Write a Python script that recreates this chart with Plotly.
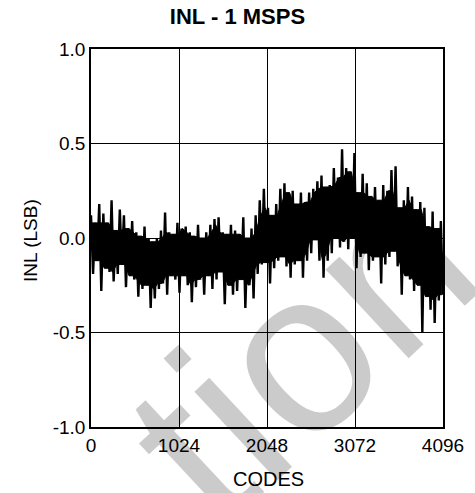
import numpy as np
import plotly.graph_objects as go

# INL values (LSB), alternating local peaks / valleys
inl = [
    0.12, -0.19, 0.08, -0.12, 0.18, -0.28, 0.13, -0.16, 0.08, -0.18,
    0.20, -0.23, 0.04, -0.19, 0.15, -0.14, 0.12, -0.26, 0.05, -0.20,
    0.09, -0.22, 0.03, -0.31, 0.01, -0.27, 0.06, -0.25, 0.00, -0.37,
    -0.02, -0.32, 0.00, -0.27, 0.04, -0.24, 0.135, -0.30, 0.03, -0.20,
    0.02, -0.22, 0.08, -0.29, 0.05, -0.20, 0.06, -0.25, 0.03, -0.34,
    0.01, -0.26, 0.07, -0.22, 0.00, -0.30, 0.03, -0.20, 0.07, -0.27,
    0.10, -0.22, 0.11, -0.18, 0.03, -0.35, 0.02, -0.25, 0.07, -0.30,
    0.04, -0.28, 0.02, -0.22, 0.11, -0.37, 0.00, -0.25, 0.05, -0.32,
    0.12, -0.19, 0.20, -0.14, 0.26, -0.13, 0.16, -0.24, 0.12, -0.16,
    0.18, -0.12, 0.26, -0.10, 0.29, -0.15, 0.24, -0.21, 0.25, -0.14,
    0.18, -0.12, 0.24, -0.21, 0.19, -0.12, 0.24, -0.08, 0.26, -0.01,
    0.30, -0.12, 0.33, -0.21, 0.27, -0.12, 0.28, -0.08, 0.37, 0.00,
    0.32, -0.05, 0.47, -0.02, 0.37, -0.06, 0.35, 0.00, 0.45, -0.16,
    0.24, -0.10, 0.34, -0.08, 0.29, -0.17, 0.22, -0.12, 0.27, -0.10,
    0.20, -0.24, 0.28, -0.14, 0.25, -0.10, 0.36, -0.07, 0.38, -0.15,
    0.16, -0.30, 0.20, -0.20, 0.27, -0.22, 0.22, -0.28, 0.15, -0.25,
    0.19, -0.50, 0.16, -0.31, 0.06, -0.38, 0.14, -0.45, 0.05, -0.33,
    0.09, -0.30,
]
codes = np.linspace(0, 4095, len(inl))

x_ticks = [0, 1024, 2048, 3072, 4096]
y_ticks = [-1.0, -0.5, 0.0, 0.5, 1.0]

title_text = "INL - 1 MSPS"
x_title = "CODES"
y_title = "INL (LSB)"
watermark = "tion"

FONT = "Liberation Sans, Arial, sans-serif"

# solid core of the noisy trace: neighbourhood min of peaks / max of valleys
peaks = np.array(inl[0::2])
valleys = np.array(inl[1::2])
n = len(peaks)
core_hi = np.array([peaks[max(0, k - 1):k + 2].min() for k in range(n)])
core_lo = np.array([valleys[max(0, k - 1):k + 2].max() for k in range(n)])
core_x = (codes[0::2] + codes[1::2]) / 2

fig = go.Figure()
fig.add_trace(go.Scatter(
    x=core_x, y=core_hi, mode="lines",
    line=dict(color="black", width=1),
    showlegend=False, hoverinfo="skip",
))
fig.add_trace(go.Scatter(
    x=core_x, y=core_lo, mode="lines",
    line=dict(color="black", width=1),
    fill="tonexty", fillcolor="black",
    showlegend=False, hoverinfo="skip",
))
fig.add_trace(go.Scatter(
    x=codes, y=inl, mode="lines",
    line=dict(color="black", width=2.4),
    showlegend=False, hoverinfo="skip",
))

fig.update_layout(
    width=475, height=493,
    margin=dict(l=91, r=32, t=49, b=66),
    paper_bgcolor="white", plot_bgcolor="white",
    font=dict(family=FONT, color="black", size=19),
    title=dict(text="<b>" + title_text + "</b>", xref="container", x=0.5,
               xanchor="center", yref="container", y=1 - 16 / 493,
               yanchor="middle", font=dict(size=22, family=FONT, color="black")),
    showlegend=False,
)
fig.update_xaxes(
    range=[0, 4096], tickvals=x_ticks, ticktext=[str(v) for v in x_ticks],
    showgrid=True, gridcolor="black", gridwidth=1,
    showline=True, linecolor="black", linewidth=1.5, mirror=True,
    ticks="", zeroline=False, automargin=False,
    tickfont=dict(size=19),
)
fig.update_yaxes(
    range=[-1, 1], tickvals=y_ticks, ticktext=[f"{v:.1f}" for v in y_ticks],
    showgrid=True, gridcolor="black", gridwidth=1,
    showline=True, linecolor="black", linewidth=1.5, mirror=True,
    ticks="", zeroline=False, automargin=False,
    tickfont=dict(size=19),
)

# axis titles
fig.add_annotation(
    text=x_title, xref="paper", yref="paper",
    x=(268 - 91) / 352, y=(427 - 479) / 378,
    xanchor="center", yanchor="middle", showarrow=False,
    font=dict(size=20, family=FONT, color="black"),
)
fig.add_annotation(
    text=y_title, xref="paper", yref="paper",
    x=(30 - 91) / 352, y=(427 - 240) / 378,
    xanchor="center", yanchor="middle", showarrow=False, textangle=-90,
    font=dict(size=19, family=FONT, color="black"),
)

# watermark
fig.add_annotation(
    text=watermark, xref="paper", yref="paper",
    x=(300 - 91) / 352, y=(427 - 350) / 378,
    xanchor="center", yanchor="middle", showarrow=False,
    textangle=-43, opacity=0.2,
    font=dict(size=230, family=FONT, color="black"),
)

fig.write_html("out.html")
